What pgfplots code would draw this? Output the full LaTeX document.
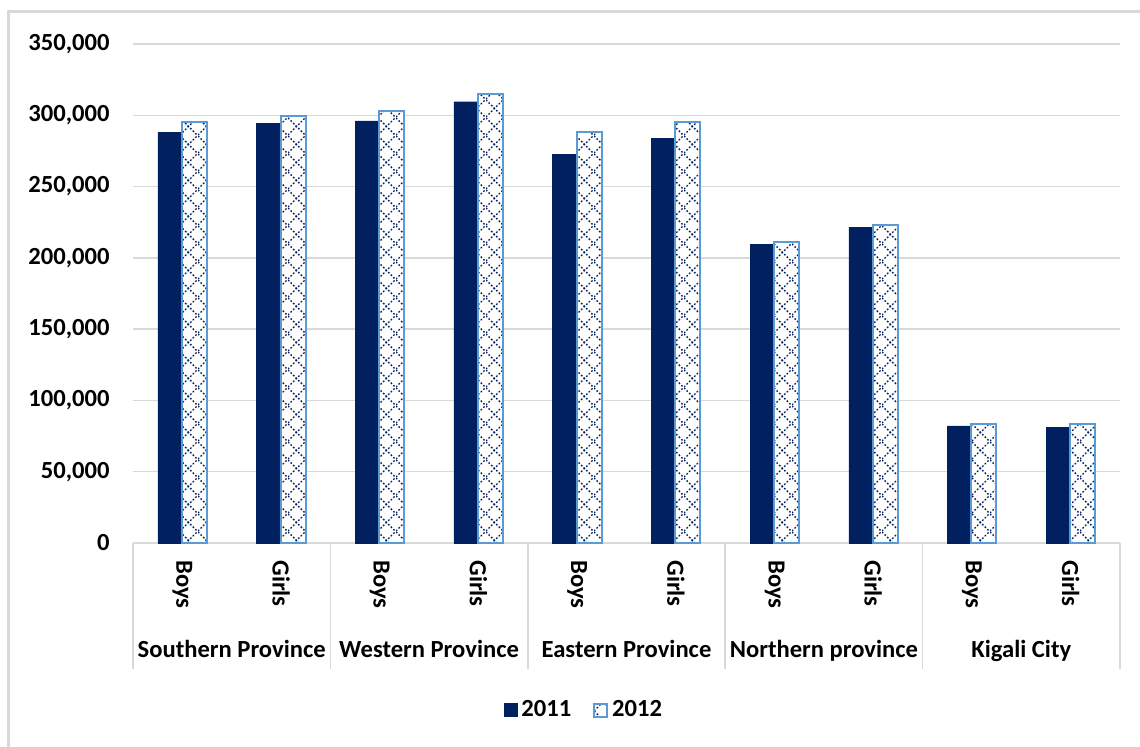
\documentclass[border=0pt]{standalone}
\usepackage{fontspec}
\setmainfont{Carlito}
\usepackage{pgfplots}
\pgfplotsset{compat=1.18}
\usetikzlibrary{patterns}
\definecolor{navy}{HTML}{002060}
\definecolor{lblue}{HTML}{5B9BD5}
\definecolor{gridc}{HTML}{D9D9D9}
\pgfdeclarepatternformonly{xlattice}{\pgfpointorigin}{\pgfpoint{9pt}{9pt}}{\pgfpoint{9pt}{9pt}}{%
  \pgfsetlinewidth{0.7pt}%
  \pgfsetdash{{0.9pt}{1.0pt}}{0pt}%
  \pgfpathmoveto{\pgfpointorigin}\pgfpathlineto{\pgfpoint{9pt}{9pt}}%
  \pgfpathmoveto{\pgfpoint{0pt}{9pt}}\pgfpathlineto{\pgfpoint{9pt}{0pt}}%
  \pgfusepath{stroke}%
}
\newcommand{\lf}{\fontsize{12.3}{14}\selectfont\bfseries}
\begin{document}
\begin{tikzpicture}
\useasboundingbox (-66.5pt,-102pt) rectangle (503.5pt,271.5pt);
\draw[gridc, line width=1.5pt] (-62pt,-102pt) -- (-62pt,265.5pt) -- (503.5pt,265.5pt);
\begin{axis}[
  at={(0,0)}, anchor=south west,
  scale only axis, width=493.5pt, height=249.5pt,
  ybar,
  xmin=-0.5, xmax=9.5,
  ymin=0, ymax=350000,
  ytick={0,50000,100000,150000,200000,250000,300000,350000},
  scaled y ticks=false,
  /pgf/number format/.cd, fixed, 1000 sep={,}, assume math mode=true, /pgfplots/.cd,
  xtick={0,1,2,3,4,5,6,7,8,9},
  xticklabels={Boys,Girls,Boys,Girls,Boys,Girls,Boys,Girls,Boys,Girls},
  axis lines*=left,
  axis line style={draw=none},
  major tick length=0pt,
  ymajorgrids,
  grid style={gridc, line width=0.75pt},
  tick label style={font=\lf, text=black},
  yticklabel style={inner sep=0pt, xshift=-11.5pt},
  xticklabel style={rotate=-90, anchor=west, inner sep=0pt},
  xticklabel shift=8.5pt,
  legend style={draw=none, font=\lf, at={(0.458,-0.335)}, anchor=center,
    legend columns=2, /tikz/every even column/.append style={column sep=9pt},
    inner sep=0pt},
  legend image code/.code={\draw[#1] (0pt,-3.25pt) rectangle (6.5pt,3.25pt);},
  clip=false,
]
\addplot[fill=navy, draw=navy, line width=0.2pt, bar width=12pt, bar shift=-6.25pt]
  coordinates {(0,287800) (1,294400) (2,296000) (3,309500) (4,272600) (5,283900) (6,209700) (7,221600) (8,82100) (9,80900)};
\addplot[fill=white, draw=lblue, line width=1pt, bar width=12.5pt, bar shift=6pt,
  postaction={pattern=xlattice, pattern color=navy}]
  coordinates {(0,295500) (1,299500) (2,303000) (3,315000) (4,288500) (5,295500) (6,211000) (7,223000) (8,83500) (9,83500)};
\legend{2011,2012}
\pgfplotsinvokeforeach{-0.5,1.5,3.5,5.5,7.5,9.5}{
  \draw[gridc, line width=0.75pt] (axis cs:#1,0) -- ([yshift=-63pt]axis cs:#1,0);
}
\node[font=\lf, anchor=base] at ([yshift=-57.5pt]axis cs:0.5,0) {Southern Province};
\node[font=\lf, anchor=base] at ([yshift=-57.5pt]axis cs:2.5,0) {Western Province};
\node[font=\lf, anchor=base] at ([yshift=-57.5pt]axis cs:4.5,0) {Eastern Province};
\node[font=\lf, anchor=base] at ([yshift=-57.5pt]axis cs:6.5,0) {Northern province};
\node[font=\lf, anchor=base] at ([yshift=-57.5pt]axis cs:8.5,0) {Kigali City};
\end{axis}
\end{tikzpicture}
\end{document}
